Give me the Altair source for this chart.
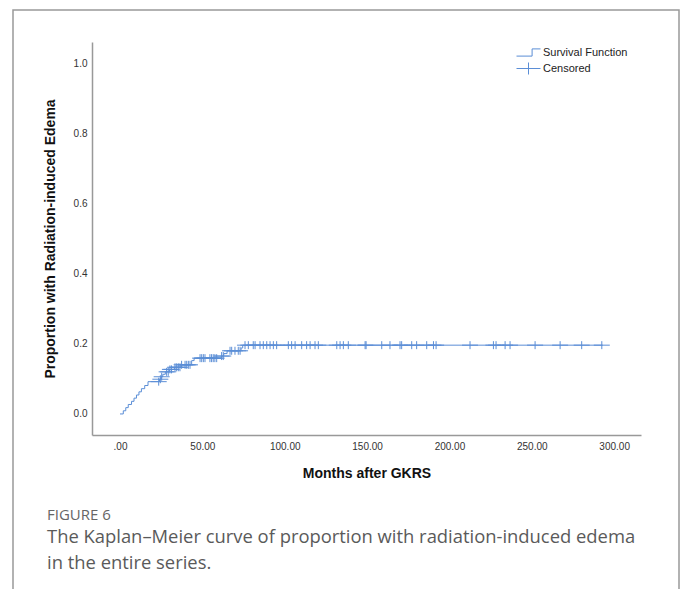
import altair as alt
import pandas as pd
import numpy as np

# Kaplan-Meier step function (months, cumulative proportion with edema)
step_t = [0, 2, 3.5, 5, 7, 8.5, 10, 11.5, 13, 15, 17, 24, 25, 26, 27.5, 30, 33, 37,
          43.5, 45, 61.5, 63, 65, 73.5, 74.5, 293]
step_p = [0.0, 0.009, 0.018, 0.027, 0.036, 0.045, 0.054, 0.063, 0.072, 0.081, 0.092,
          0.099, 0.106, 0.113, 0.12, 0.127, 0.133, 0.14, 0.152, 0.159, 0.165, 0.172,
          0.18, 0.188, 0.196, 0.196]

# censored observations (months)
censor_t = [23.5, 24.5, 25.3, 28.3, 29.3, 30.3, 31.3, 33.4, 34.4, 35.4, 36.4, 37.4,
            39.5, 40.5, 41.5, 42.5, 48.6, 49.6, 50.6, 51.6, 54.6, 55.6, 56.6, 57.6,
            58.7, 61.7, 62.7, 66.8, 67.8, 69.8, 71.8, 72.9, 75.9, 77.9, 80.9, 82.0,
            85.0, 87.0, 89.1, 91.1, 93.1, 95.1, 102.2, 104.2, 106.3, 110.3, 113.3,
            115.4, 118.4, 120.4, 131.6, 133.6, 135.6, 138.6, 148.8, 149.4, 158.9,
            163.9, 170.0, 171.0, 177.1, 180.1, 186.2, 190.3, 191.9, 212.5, 226.7,
            228.3, 233.8, 236.8, 252.0, 267.2, 280.3, 292.5]

x_ticks = [0, 50, 100, 150, 200, 250, 300]
y_ticks = [0.0, 0.2, 0.4, 0.6, 0.8, 1.0]
series_names = ["Survival Function", "Censored"]

figure_label = "FIGURE 6"
caption_lines = ["The Kaplan\u2013Meier curve of proportion with radiation-induced edema",
                 "in the entire series."]

BLUE = "#5b8ed6"
FONT = "Liberation Sans"
STEP_PATH = "M-2,0.6H0.6V-0.6H2"
CROSS_PATH = "M-2,0H2M0,-1V1"

idx = np.searchsorted(np.array(step_t), np.array(censor_t), side="right") - 1
censor_p = [step_p[i] for i in idx]

step_df = pd.DataFrame({"t": step_t, "p": step_p, "series": series_names[0]})
cens_df = pd.DataFrame({"t": censor_t, "p": censor_p, "series": series_names[1]})

xscale = alt.Scale(domain=[-17, 316.3], nice=False, zero=False)
yscale = alt.Scale(domain=[-0.06, 1.06], nice=False, zero=False)
cscale = alt.Scale(domain=series_names, range=[BLUE, BLUE])
sscale = alt.Scale(domain=series_names, range=[STEP_PATH, CROSS_PATH])

xaxis = alt.Axis(values=x_ticks, title="Months after GKRS",
                 labelExpr="datum.value == 0 ? '.00' : format(datum.value, '.2f')",
                 ticks=False, grid=False, domainColor="#999", domainWidth=1.5,
                 labelFont=FONT, labelFontSize=10, labelColor="#333", labelPadding=6,
                 titleFont=FONT, titleFontSize=14, titleFontWeight="bold",
                 titleColor="#111", titlePadding=15)
yaxis = alt.Axis(values=y_ticks, title="Proportion with Radiation-induced Edema",
                 format=".1f", ticks=False, grid=False, domainColor="#999",
                 domainWidth=1.5, labelFont=FONT, labelFontSize=10, labelColor="#333",
                 labelPadding=5, titleFont=FONT, titleFontSize=14,
                 titleFontWeight="bold", titleColor="#111", titlePadding=16)

legend = alt.Legend(
    title=None, orient="none", legendX=430, legendY=4, padding=0,
    symbolSize=144, symbolStrokeWidth=1, symbolStrokeColor=BLUE,
    symbolFillColor="transparent", labelFont=FONT, labelFontSize=11,
    labelColor="#222", labelOffset=8, rowPadding=1)

line = alt.Chart(step_df).mark_line(interpolate="step-after", strokeWidth=1).encode(
    x=alt.X("t:Q", scale=xscale, axis=xaxis),
    y=alt.Y("p:Q", scale=yscale, axis=yaxis),
    color=alt.Color("series:N", scale=cscale, legend=legend),
)

cens = alt.Chart(cens_df).mark_point(filled=False, strokeWidth=1, size=64, opacity=1).encode(
    x=alt.X("t:Q", scale=xscale),
    y=alt.Y("p:Q", scale=yscale),
    color=alt.Color("series:N", scale=cscale, legend=legend),
    shape=alt.Shape("series:N", scale=sscale, legend=legend),
)

frame = alt.Chart(alt.Data(values=[{}])).mark_rect(
    fill="transparent", stroke="#999", strokeWidth=1.5).encode(
    x=alt.value(-79), x2=alt.value(587), y=alt.value(-32), y2=alt.value(620))

fig_text = alt.Chart(pd.DataFrame({"text": [figure_label]})).mark_text(
    align="left", baseline="middle", font="Open Sans", fontSize=15,
    color="#666").encode(
    text="text:N", x=alt.value(-45), y=alt.value(473))

cap_layers = []
for i, ln in enumerate(caption_lines):
    cap_layers.append(
        alt.Chart(pd.DataFrame({"text": [ln]})).mark_text(
            align="left", baseline="middle", font="Open Sans", fontSize=18.4,
            color="#5a5a5a").encode(
            text="text:N", x=alt.value(-45), y=alt.value(494.5 + 26 * i)))

chart = alt.layer(frame, line, cens, fig_text, *cap_layers).properties(
    width=549, height=393,
    autosize=alt.AutoSizeParams(type="none"),
    padding={"left": 92, "top": 42, "right": 40, "bottom": 154},
    background="white",
).configure_view(stroke=None)

chart.save("out.html", embed_options={"renderer": "svg", "actions": False})
